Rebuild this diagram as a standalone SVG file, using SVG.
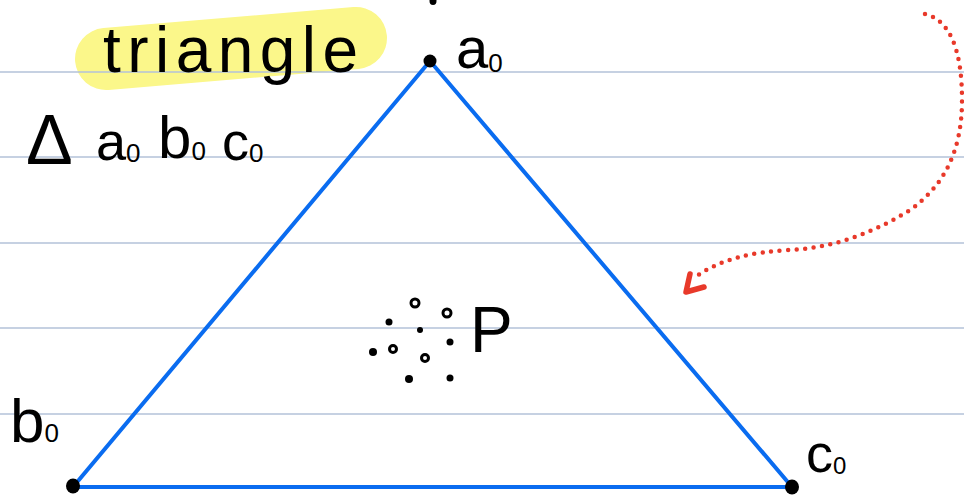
<svg xmlns="http://www.w3.org/2000/svg" width="964" height="498" viewBox="0 0 964 498">
<style>
.rule{stroke:#b3c2d9;stroke-width:1.5}
.hand{font-family:"Liberation Sans","DejaVu Sans",sans-serif;fill:#000}
.edge{stroke:#0a6cf0;stroke-width:4;stroke-linecap:round;fill:none}
.dot{fill:#000}
.ring{fill:none;stroke:#000;stroke-width:3}
</style>
<rect width="964" height="498" fill="#fff"/>
<g id="highlight">
<path d="M106,59 L356,38" stroke="#fbf78a" stroke-width="62" stroke-linecap="round"/>
</g>
<g id="ruled-lines">
<line class="rule" x1="0" y1="72" x2="964" y2="72"/>
<line class="rule" x1="0" y1="157" x2="964" y2="157"/>
<line class="rule" x1="0" y1="243" x2="964" y2="243"/>
<line class="rule" x1="0" y1="328" x2="964" y2="328"/>
<line class="rule" x1="0" y1="414" x2="964" y2="414"/>
</g>
<g id="title">
<text class="hand" x="103" y="72" font-size="64" textLength="255" lengthAdjust="spacing">triangle</text>
</g>
<g id="triangle-name">
<text class="hand" x="26" y="164" font-size="70">Δ</text>
<text class="hand" x="96" y="160" font-size="54">a<tspan font-size="26" dy="2">0</tspan></text>
<text class="hand" x="158" y="158" font-size="60">b<tspan font-size="26" dy="2">0</tspan></text>
<text class="hand" x="222" y="160" font-size="54">c<tspan font-size="26" dy="2">0</tspan></text>
</g>
<g id="connectors">
<path class="edge" d="M430,61 L73,487 L792,487 Z"/>
<path d="M925,14 C950,20 962,50 962,100 C962,150 945,185 910,210 C870,235 830,248 790,250 C750,252 718,260 694,278" fill="none" stroke="#e8392a" stroke-width="4.5" stroke-linecap="round" stroke-dasharray="0 8.5"/>
<path d="M690,274 L686,292 L704,287" fill="none" stroke="#e8392a" stroke-width="5.5" stroke-linecap="round" stroke-linejoin="round"/>
</g>
<g id="node-a0">
<circle class="dot" cx="430" cy="61" r="6.5"/>
<text class="hand" x="456" y="68" font-size="58">a<tspan font-size="26" dy="4">0</tspan></text>
</g>
<g id="node-b0">
<ellipse class="dot" cx="73" cy="486" rx="7" ry="7.5"/>
<text class="hand" x="10" y="442" font-size="62">b<tspan font-size="26" dy="0">0</tspan></text>
</g>
<g id="node-c0">
<ellipse class="dot" cx="792" cy="487" rx="7" ry="7.5"/>
<text class="hand" x="806" y="472" font-size="54">c<tspan font-size="24" dy="2">0</tspan></text>
</g>
<g id="top-mark">
<ellipse class="dot" cx="433" cy="1" rx="3.5" ry="4"/>
</g>
<g id="point-cloud-P">
<circle class="ring" cx="415" cy="303" r="4"/>
<circle class="ring" cx="447" cy="313" r="4"/>
<circle class="dot" cx="389" cy="322" r="3.5"/>
<circle class="dot" cx="420" cy="330" r="3"/>
<circle class="dot" cx="450" cy="342" r="3.5"/>
<circle class="dot" cx="373" cy="352" r="4"/>
<circle class="ring" cx="393" cy="349" r="3.5"/>
<circle class="ring" cx="425" cy="358" r="3.5"/>
<circle class="dot" cx="409" cy="379" r="4"/>
<circle class="dot" cx="450" cy="378" r="3.5"/>
<text class="hand" x="470" y="352" font-size="64">P</text>
</g>
</svg>
